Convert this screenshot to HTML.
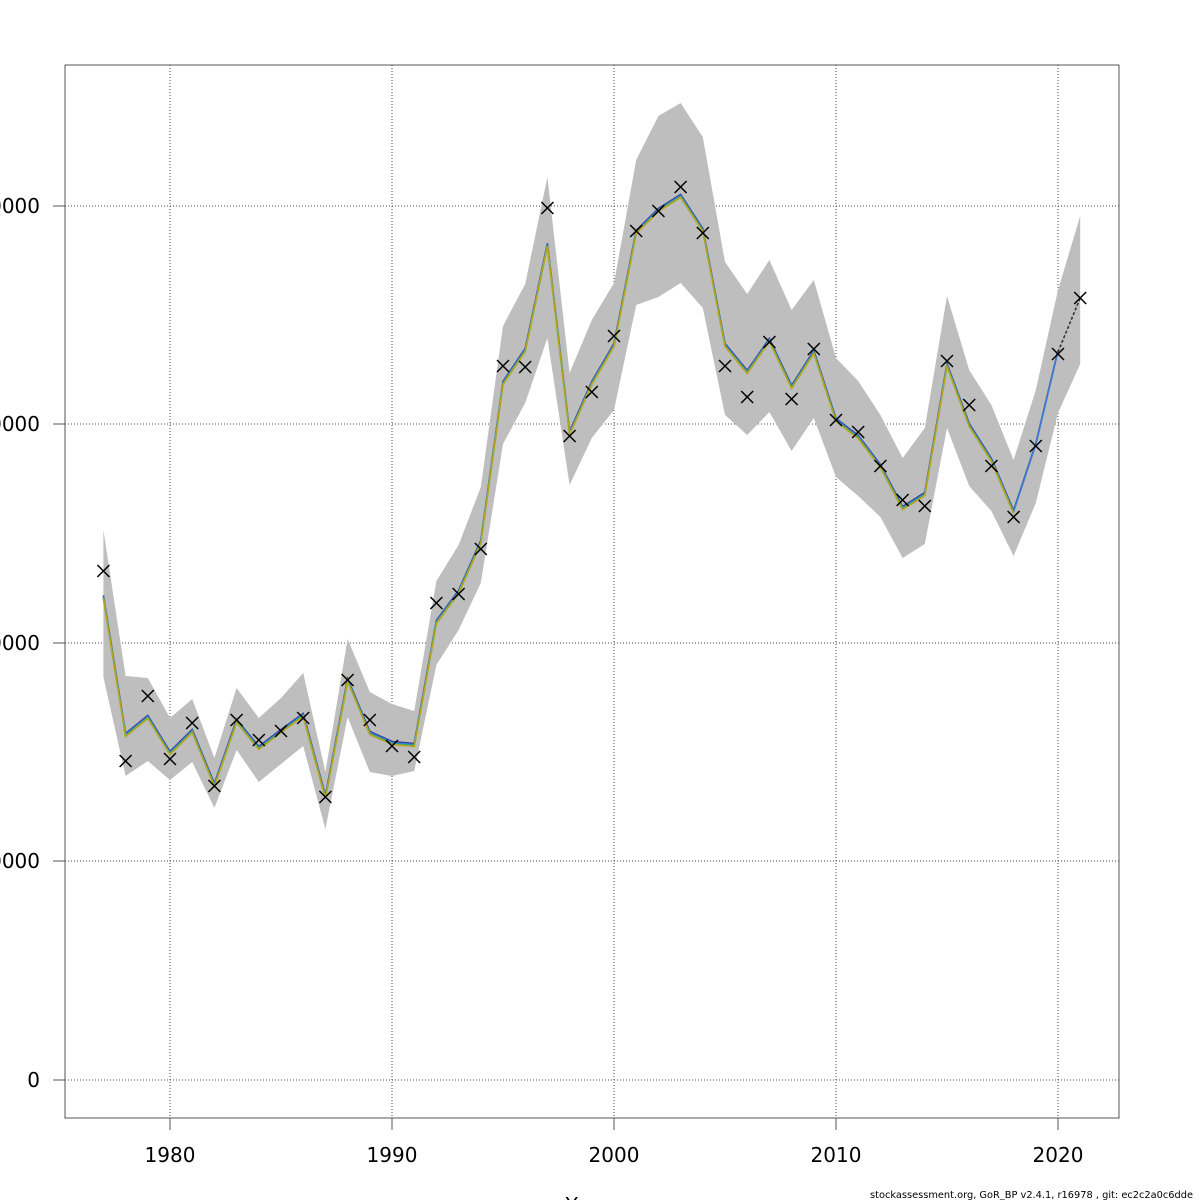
<!DOCTYPE html>
<html><head><meta charset="utf-8"><style>
html,body{margin:0;padding:0;background:#fff;width:1200px;height:1200px;overflow:hidden}
svg text{font-family:"DejaVu Sans","Liberation Sans",sans-serif}
</style></head><body>
<svg id="s" width="1200" height="1200" viewBox="0 0 1200 1200" xmlns="http://www.w3.org/2000/svg">
<rect width="1200" height="1200" fill="#fff"/>
<g id="grid" stroke="#444" stroke-width="1" stroke-dasharray="1,2"></g>
<g id="band"></g>
<g id="lines"></g>
<g id="marks" stroke="#000" stroke-width="1.5"></g>
<rect x="65" y="65" width="1054" height="1053" fill="none" stroke="#555" stroke-width="1"/>
<g id="ticks" stroke="#555" stroke-width="1"></g>
<g id="labels" font-size="20" fill="#000"></g>
<text x="592" y="1212" font-size="20" text-anchor="middle">Years</text>
<text x="870" y="1198" font-size="10" textLength="323" lengthAdjust="spacingAndGlyphs">stockassessment.org, GoR_BP  v2.4.1, r16978 , git: ec2c2a0c6dde</text>
</svg>
<script>
const X=i=>103.4+22.2*i;
const line=[597,735,717,753,731,785,721,748,731,715,797,680,733,743,745,622,592,542,383,350,245,433,383,345,232,210,196,230,345,372,340,387,352,420,437,466,508,494,365,425,460,512,445,352];
const cross=[571,761,696,759,723,786,720,740,731,718,797,680,720,746,757,603,594,549,366,367,208,436,392,336,231,211,187,233,366,397,342,399,349,420,432,466,500,506,361,405,466,517,446,354,298];
const up=[530,676,678,718,699,758,688,718,698,673,772,639,692,704,711,581,545,487,326,284,177,373,320,283,160,116,103,137,262,294,260,310,280,358,381,415,458,428,296,370,405,460,390,290,216];
const lo=[677,776,761,780,762,808,750,782,764,746,829,717,772,776,771,665,630,583,444,403,338,485,438,410,305,297,283,308,415,435,412,451,418,477,496,517,558,544,428,486,511,556,503,413,364];
const ns="http://www.w3.org/2000/svg";
function el(p,t,a){const e=document.createElementNS(ns,t);for(const k in a)e.setAttribute(k,a[k]);document.getElementById(p).appendChild(e);return e;}
[1080,861,643,424,206].forEach((y,k)=>{el("grid","line",{x1:65,x2:1119,y1:y,y2:y});el("ticks","line",{x1:53,x2:65,y1:y,y2:y});
 const t=el("labels","text",{x:40,y:y+7,"text-anchor":"end"});t.textContent=k==0?"0":(k*10000)+"";});
[1980,1990,2000,2010,2020].forEach(yr=>{const x=170+(yr-1980)*22.2;el("grid","line",{x1:x,x2:x,y1:65,y2:1118});el("ticks","line",{x1:x,x2:x,y1:1118,y2:1130});
 const t=el("labels","text",{x:x,y:1162,"text-anchor":"middle"});t.textContent=yr;});
let d="M"+up.map((v,i)=>X(i).toFixed(1)+","+v).join(" L")+" L"+lo.map((v,i)=>[X(i).toFixed(1),v]).reverse().map(p=>p.join(",")).join(" L")+"Z";
el("band","path",{d:d,fill:"#bebebe",stroke:"none"});
const cols=[["#3030a0",-1.5,44],["#3a7fd0",-0.5,44],["#1a9e9e",0.5,42],["#4daa50",1,42],["#b5a51f",1.5,42]];
cols.forEach(([c,o,n])=>{el("lines","polyline",{points:line.slice(0,n).map((v,i)=>X(i).toFixed(1)+","+(v+o)).join(" "),fill:"none",stroke:c,"stroke-width":1.6});});
el("lines","line",{x1:X(43),y1:352,x2:X(44),y2:298,stroke:"#333","stroke-width":1.6,"stroke-dasharray":"3,2"});
cross.forEach((v,i)=>{const x=X(i),s=6;el("marks","line",{x1:x-s,y1:v-s,x2:x+s,y2:v+s});el("marks","line",{x1:x-s,y1:v+s,x2:x+s,y2:v-s});});
</script>
</body></html>
